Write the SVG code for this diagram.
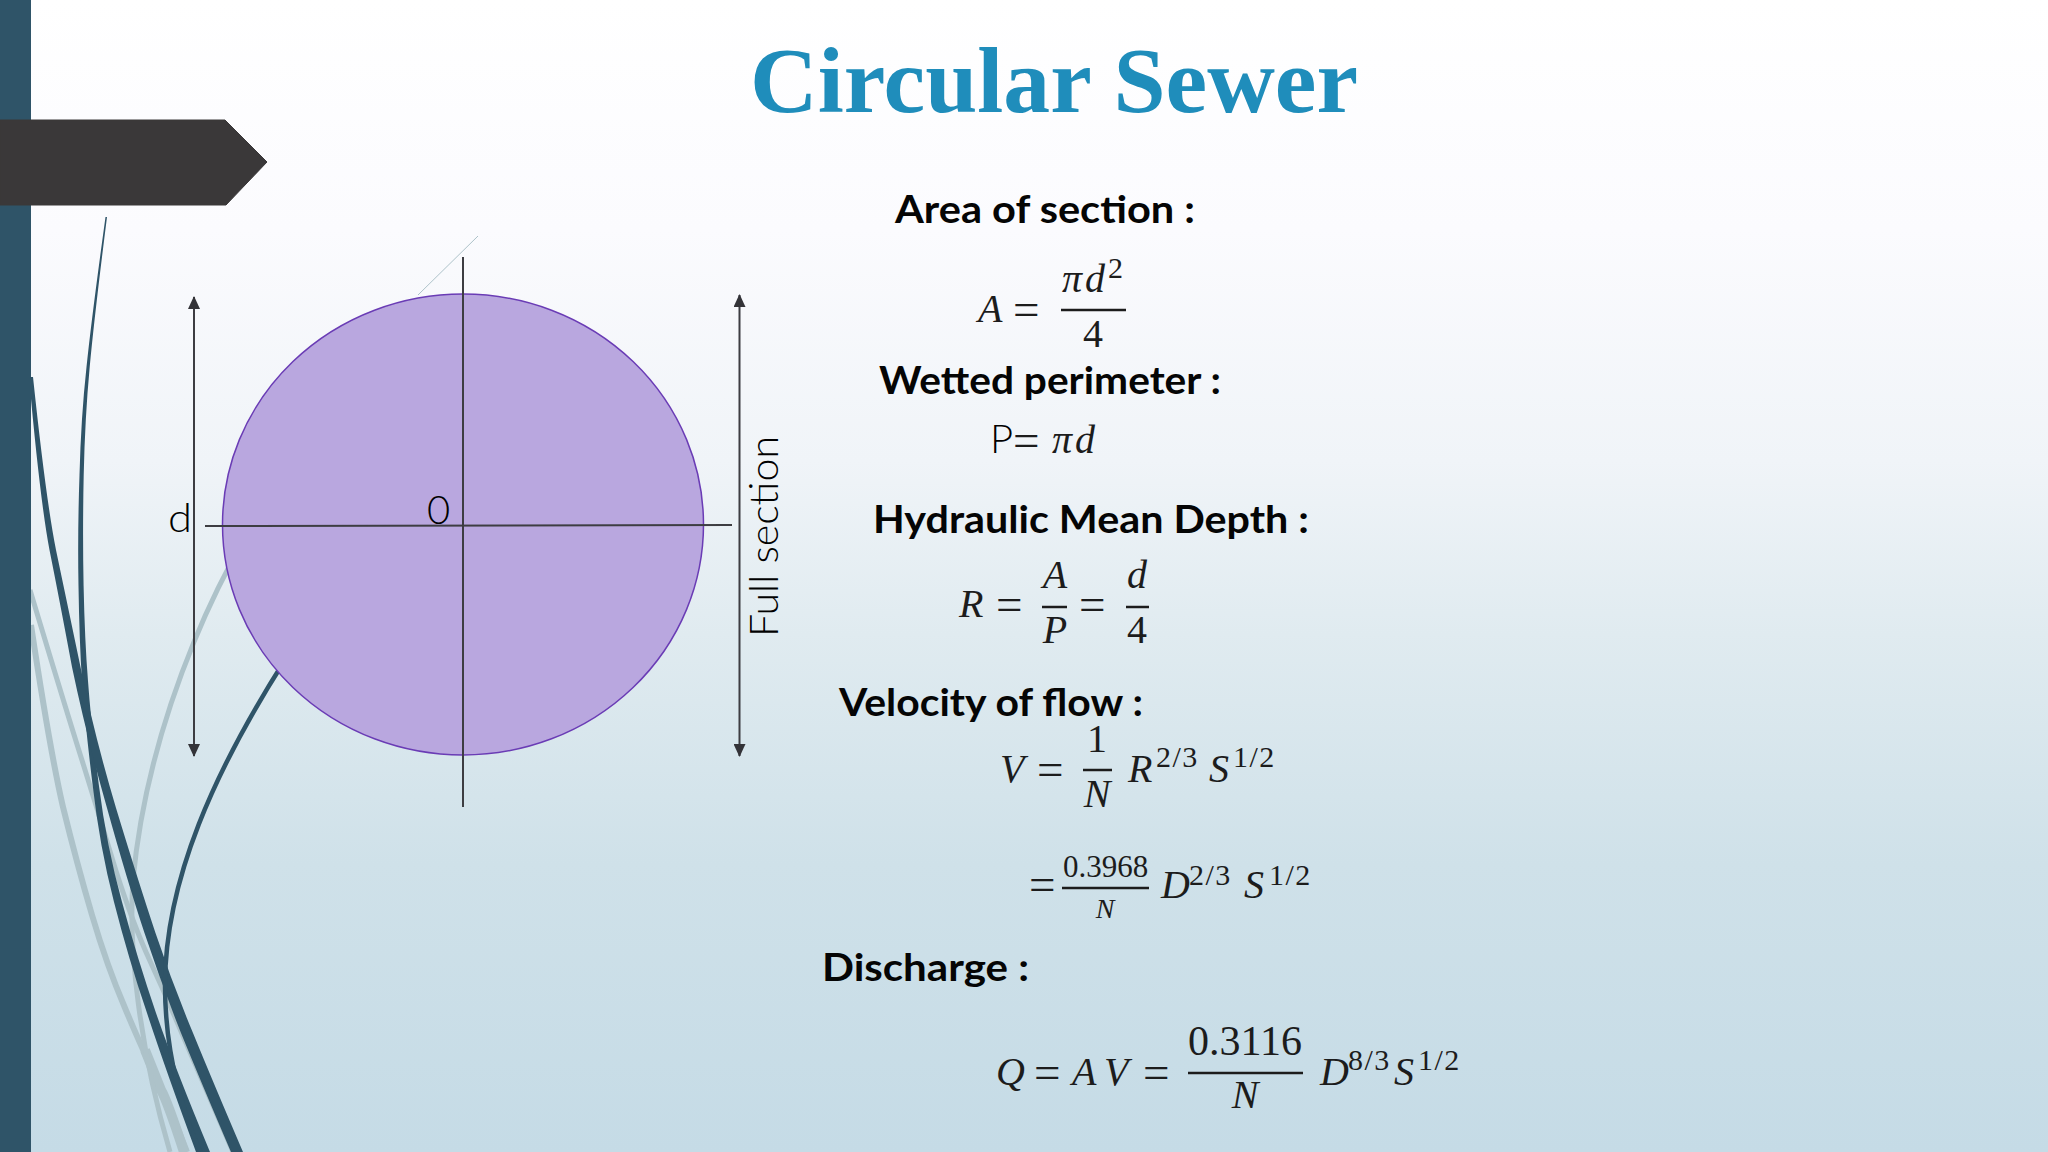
<svg xmlns="http://www.w3.org/2000/svg" width="2048" height="1152" viewBox="0 0 2048 1152">
<defs>
<linearGradient id="bg" x1="0" y1="0" x2="0" y2="1">
<stop offset="0" stop-color="#ffffff"/><stop offset="0.2" stop-color="#fbfbfe"/><stop offset="0.4" stop-color="#f0f4f8"/><stop offset="0.55" stop-color="#e0ebf0"/><stop offset="0.75" stop-color="#cfe1e9"/><stop offset="1" stop-color="#c5dbe6"/>
</linearGradient>
<marker id="ah" viewBox="0 0 13 12" refX="12" refY="6" markerWidth="13" markerHeight="12" markerUnits="userSpaceOnUse" orient="auto-start-reverse"><path d="M0,0L13,6L0,12Z" fill="#333338"/></marker>
</defs>
<style>
.h{font-family:"Lato","Liberation Sans",sans-serif;font-weight:700;font-size:38px;fill:#050505}
.l{font-family:"Lato","Liberation Sans",sans-serif;font-weight:300;font-size:40px;fill:#000}
.m{font-family:"Liberation Serif",serif;font-style:italic;font-size:40px;fill:#1c1c1c}
.n{font-family:"Liberation Serif",serif;font-size:40px;fill:#1c1c1c}
.e{font-family:"Liberation Serif",serif;font-size:47px;fill:#1c1c1c}
.s{font-family:"Liberation Serif",serif;font-size:30px;letter-spacing:1.5px;fill:#1c1c1c}
.c{text-anchor:middle}
.f{stroke:#1c1c1c;stroke-width:2.5;fill:none}
.a{stroke:#3d3d42;stroke-width:2;fill:none}
.g{stroke:#adc2c9;fill:none}
.dk{fill:#2f5468}
</style>
<rect width="2048" height="1152" fill="url(#bg)"/>
<g id="decoration">
<path class="g" stroke-width="1" d="M478,236L418,295"/>
<path class="g" stroke-width="5" d="M30,590Q67,713 83.5,765Q100,818 116,871Q133,924 150,961Q167,998 183,1036Q200,1075 233,1152"/>
<path class="g" stroke-width="6" d="M31,625Q50,751 63,807Q77,864 92,915Q107,966 125,1008Q143,1051 155,1075Q167,1100 187,1152"/>
<path class="g" stroke-width="10" d="M145,1050Q155,1075 161,1090Q167,1100 184,1152"/>
<path class="g" stroke-width="5" d="M300,460C225,545 148,720 133,880C128,950 140,1050 170,1152"/>
<path class="dk" d="M107,217Q94.3,317 89.7,367Q85,417 83.7,475Q82.500,533 83.600,586Q84.700,640 88,681Q91,723 98.700,784Q106.500,846 122,902Q137.500,959 156,1013Q175,1068 210,1152L196,1152Q165,1068 147,1013Q128.500,959 114,902Q99.500,846 92.500,784Q85,723 82,681Q79.300,640 78.500,586Q77.500,533 79.500,475Q81,417 86.500,367Q91.700,317 105.500,217Z"/>
<path class="dk" d="M33,377Q46,500 56,550Q66.500,600 80.500,667Q94,734 116,808Q138.500,882 155.500,933Q172.500,984 193,1033Q213,1082 243,1152L231,1152Q201,1082 181,1033Q161.500,984 144.500,933Q127.500,882 107,808Q86,734 72,667Q59.500,600 49.500,550Q40,500 29,377Z"/>
<path d="M285,660C215,770 165,880 165,985C165,1050 180,1105 200,1152" fill="none" stroke="#2f5468" stroke-width="4.500"/>
<rect width="31" height="1152" fill="#2f5468"/>
<path d="M0,120H225L267,162L226,205H0Z" fill="#3a3839" stroke="#3a3839" stroke-width="1" stroke-linejoin="round"/>
</g>
<text id="title" x="750" y="112" font-family="Liberation Serif, serif" font-weight="700" font-size="93.700" fill="#1f8dbb">Circular Sewer</text>
<g id="section">
<ellipse cx="463" cy="524.500" rx="240.500" ry="230.500" fill="#b9a7df" stroke="#6a3cb5" stroke-width="1.500"/>
<text class="l" x="168" y="532" textLength="24" lengthAdjust="spacingAndGlyphs">d</text>
<text class="l" x="427" y="524">0</text>
<text class="l" transform="translate(778,637) rotate(-90)" textLength="201" lengthAdjust="spacingAndGlyphs">Full section</text>
</g>
<g id="connectors">
<path class="a" d="M463,257V807"/>
<path class="a" d="M205,526L732,525"/>
<path class="a" d="M194,297V756" marker-start="url(#ah)" marker-end="url(#ah)"/>
<path class="a" d="M739.500,295V756" marker-start="url(#ah)" marker-end="url(#ah)"/>
</g>
<g id="area">
<text class="h" x="895" y="223" textLength="300" lengthAdjust="spacingAndGlyphs">Area of section :</text>
<text class="m" x="978" y="322">A</text><text class="e" x="1013" y="325">=</text>
<text class="m" x="1062" y="292" letter-spacing="3">πd</text><text class="s" x="1108" y="278">2</text>
<path class="f" d="M1061,310H1126"/>
<text class="n c" x="1093" y="347">4</text>
</g>
<g id="perimeter">
<text class="h" x="879" y="394" textLength="342" lengthAdjust="spacingAndGlyphs">Wetted perimeter :</text>
<text class="l" x="990" y="453">P</text><text class="e" x="1013" y="456">=</text>
<text class="m" x="1052" y="453" letter-spacing="3">πd</text>
</g>
<g id="depth">
<text class="h" x="873" y="533" textLength="436" lengthAdjust="spacingAndGlyphs">Hydraulic Mean Depth :</text>
<text class="m" x="959" y="617">R</text><text class="e" x="996" y="620">=</text>
<text class="m c" x="1055" y="588">A</text><path class="f" d="M1042,607H1067"/><text class="m c" x="1055" y="643">P</text>
<text class="e" x="1079" y="620">=</text>
<text class="m c" x="1137" y="588">d</text><path class="f" d="M1126,607H1149"/><text class="n c" x="1137" y="643">4</text>
</g>
<g id="velocity">
<text class="h" x="839" y="716" textLength="304" lengthAdjust="spacingAndGlyphs">Velocity of flow :</text>
<text class="m" x="1000" y="782">V</text><text class="e" x="1037" y="785">=</text>
<text class="n c" x="1097" y="752">1</text><path class="f" d="M1083,770H1112"/><text class="m c" x="1097" y="807">N</text>
<text class="m" x="1128" y="782">R</text><text class="s" x="1156" y="767">2/3</text>
<text class="m" x="1209" y="782">S</text><text class="s" x="1233" y="767">1/2</text>
<text class="e" x="1029" y="900">=</text>
<text class="n c" x="1105.500" y="877" style="font-size:31px">0.3968</text><path class="f" d="M1062,888H1149"/><text class="m c" x="1105" y="918" style="font-size:28px">N</text>
<text class="m" x="1161" y="898">D</text><text class="s" x="1189" y="885">2/3</text>
<text class="m" x="1244" y="898">S</text><text class="s" x="1269" y="885">1/2</text>
</g>
<g id="discharge">
<text class="h" x="822" y="981" textLength="207" lengthAdjust="spacingAndGlyphs">Discharge :</text>
<text class="m" x="996" y="1085">Q</text><text class="e" x="1034" y="1088">=</text>
<text class="m" x="1072" y="1085">A</text><text class="m" x="1104" y="1085">V</text><text class="e" x="1143" y="1088">=</text>
<text class="n c" x="1245" y="1055" style="font-size:42px">0.3116</text><path class="f" d="M1188,1073H1303"/><text class="m c" x="1245" y="1108">N</text>
<text class="m" x="1320" y="1085">D</text><text class="s" x="1348" y="1070">8/3</text>
<text class="m" x="1394" y="1085">S</text><text class="s" x="1418" y="1070">1/2</text>
</g>
</svg>
